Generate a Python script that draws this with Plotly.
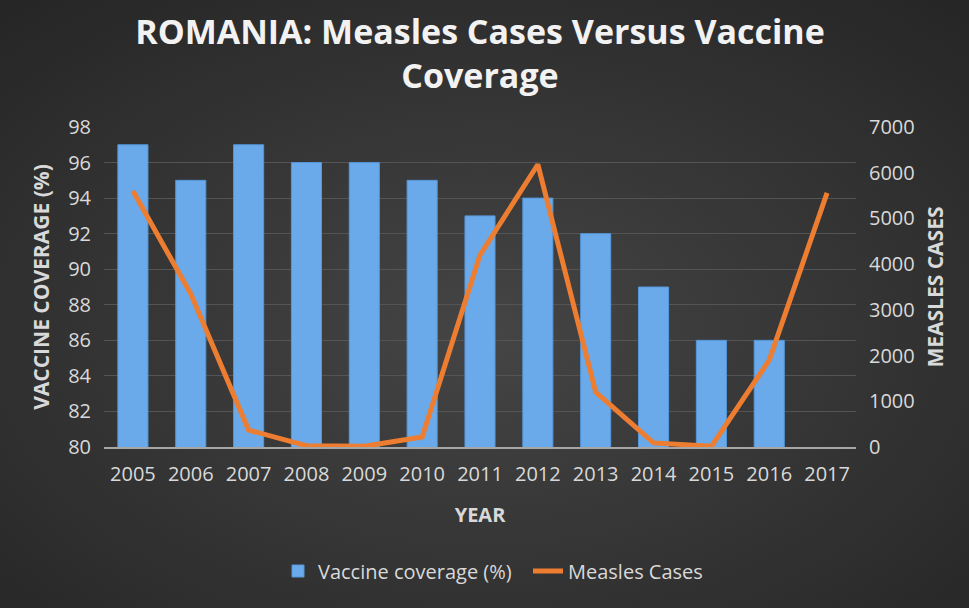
import base64
import plotly.graph_objects as go

years = ["2005", "2006", "2007", "2008", "2009", "2010", "2011", "2012",
         "2013", "2014", "2015", "2016", "2017"]
coverage = [97, 95, 97, 96, 96, 95, 93, 94, 92, 89, 86, 86, None]
measles = [5600, 3350, 370, 30, 15, 220, 4200, 6180, 1200, 90, 15, 1900, 5560]

W, H = 969, 608
ML, MR, MT, MB = 104, 113, 127, 161
PW, PH = W - ML - MR, H - MT - MB

svg = f'''<svg xmlns="http://www.w3.org/2000/svg" width="{W}" height="{H}" viewBox="0 0 {W} {H}" preserveAspectRatio="none">
<defs><radialGradient id="g" cx="50%" cy="55%" r="72%">
<stop offset="0%" stop-color="#454545"/><stop offset="100%" stop-color="#262626"/>
</radialGradient></defs><rect width="{W}" height="{H}" fill="url(#g)"/></svg>'''
bg_src = "data:image/svg+xml;base64," + base64.b64encode(svg.encode()).decode()

FONT = "Open Sans"
TXT = "#d9d9d9"

fig = go.Figure()
fig.add_trace(go.Bar(
    x=years, y=coverage, name="Vaccine coverage (%)",
    marker=dict(color="#6aaaea", line=dict(color="#5597da", width=1)),
    yaxis="y",
))
fig.add_trace(go.Scatter(
    x=years, y=measles, name="Measles Cases", mode="lines",
    line=dict(color="#ed7d31", width=5), yaxis="y2",
))

fig.update_layout(
    width=W, height=H,
    margin=dict(l=ML, r=MR, t=MT, b=MB, autoexpand=False),
    paper_bgcolor="#333333", plot_bgcolor="rgba(0,0,0,0)",
    font=dict(family=FONT, color=TXT, size=20),
    title=dict(text="<b>ROMANIA: Measles Cases Versus Vaccine<br>Coverage</b>",
               x=0.5, xref="paper", xanchor="center", y=1 - 44 / H, yanchor="middle",
               font=dict(size=34, color="#f2f2f2", family=FONT)),
    bargap=0.48,
    showlegend=True,
    legend=dict(orientation="h", x=(278 - ML) / PW, xanchor="left", xref="paper",
                y=-(571 - 447) / PH, yanchor="middle", font=dict(size=20, color=TXT),
                bgcolor="rgba(0,0,0,0)", itemwidth=30, entrywidth=205),
    xaxis=dict(type="category", showgrid=False, showline=True,
               linecolor="#a6a6a6", linewidth=1.5, ticks="",
               tickfont=dict(size=20, color=TXT), ticklabelstandoff=8,
               title=dict(text="<b>YEAR</b>", font=dict(size=20, color=TXT), standoff=22)),
    yaxis=dict(range=[80, 98], dtick=2, showgrid=True, gridcolor="#545454",
               gridwidth=1, zeroline=False, showline=False,
               tickfont=dict(size=20, color=TXT), ticklabelstandoff=12,
               title=dict(text="<b>VACCINE COVERAGE (%)</b>",
                          font=dict(size=21, color=TXT), standoff=12)),
    yaxis2=dict(range=[0, 7000], dtick=1000, overlaying="y", side="right",
                showgrid=False, zeroline=False, showline=False,
                tickfont=dict(size=20, color=TXT), ticklabelstandoff=12,
                title=dict(text="<b>MEASLES CASES</b>",
                           font=dict(size=21, color=TXT), standoff=14)),
    images=[dict(source=bg_src, xref="paper", yref="paper",
                 x=-ML / PW, y=1 + MT / PH, sizex=W / PW, sizey=H / PH,
                 xanchor="left", yanchor="top", sizing="stretch", layer="below")],
)

fig.write_html("out.html", config={"displayModeBar": False},
               post_script="document.body.style.margin='0';document.body.style.overflow='hidden';")
